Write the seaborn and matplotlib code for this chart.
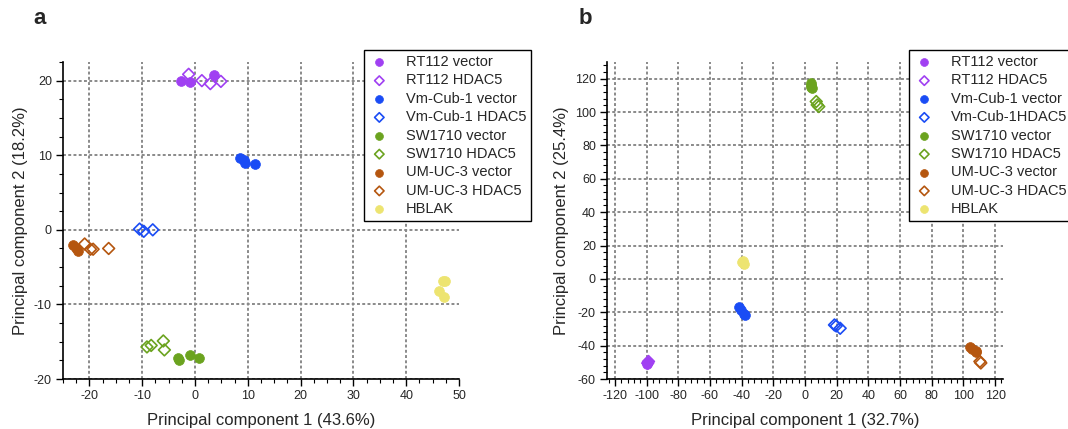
import numpy as np
import pandas as pd
import matplotlib
matplotlib.use('Agg')
import matplotlib.pyplot as plt
import seaborn as sns
from matplotlib.ticker import MultipleLocator

sns.set_style('white')
plt.rcParams['font.family'] = ['Liberation Sans', 'DejaVu Sans']
plt.rcParams['axes.unicode_minus'] = False

# Groups shown in both panels (legend order)
groups = ['RT112 vector', 'RT112 HDAC5', 'Vm-Cub-1 vector', 'Vm-Cub-1 HDAC5',
          'SW1710 vector', 'SW1710 HDAC5', 'UM-UC-3 vector', 'UM-UC-3 HDAC5', 'HBLAK']
labels_b = ['RT112 vector', 'RT112 HDAC5', 'Vm-Cub-1 vector', 'Vm-Cub-1HDAC5',
            'SW1710 vector', 'SW1710 HDAC5', 'UM-UC-3 vector', 'UM-UC-3 HDAC5', 'HBLAK']
colors = ['#A040F2', '#A040F2', '#1A4CF5', '#1A4CF5', '#6BA31F', '#6BA31F',
          '#B5560F', '#B5560F', '#EDE470']
filled = [True, False, True, False, True, False, True, False, True]

# Panel a
a_group = (['RT112 vector'] * 3 + ['RT112 HDAC5'] * 4 + ['Vm-Cub-1 vector'] * 4
           + ['Vm-Cub-1 HDAC5'] * 3 + ['SW1710 vector'] * 4 + ['SW1710 HDAC5'] * 4
           + ['UM-UC-3 vector'] * 3 + ['UM-UC-3 HDAC5'] * 4 + ['HBLAK'] * 4)
a_pc1 = [-2.6, -0.9, 3.6,
         -1.2, 1.3, 2.9, 4.9,
         8.6, 9.5, 11.4, 9.2,
         -10.5, -9.7, -8.0,
         -3.1, -3.3, -0.9, 0.8,
         -9.1, -8.3, -6.0, -5.8,
         -23.1, -22.6, -22.2,
         -20.9, -19.8, -19.3, -16.35,
         46.9, 47.3, 46.3, 47.1]
a_pc2 = [20.0, 19.8, 20.7,
         20.85, 20.0, 19.6, 19.9,
         9.6, 9.0, 8.8, 9.3,
         0.1, -0.2, 0.0,
         -17.4, -17.2, -16.8, -17.2,
         -15.7, -15.5, -14.9, -16.1,
         -2.05, -2.5, -2.85,
         -1.9, -2.6, -2.6, -2.5,
         -6.8, -6.8, -8.2, -9.0]

# Panel b
b_group = (['RT112 vector'] * 2 + ['RT112 HDAC5'] * 2 + ['Vm-Cub-1 vector'] * 4
           + ['Vm-Cub-1 HDAC5'] * 3 + ['SW1710 vector'] * 4 + ['SW1710 HDAC5'] * 3
           + ['UM-UC-3 vector'] * 4 + ['UM-UC-3 HDAC5'] * 2 + ['HBLAK'] * 3)
b_pc1 = [-99.5, -99.0,
         -99.3, -98.8,
         -41.7, -40.2, -38.1, -38.8,
         18.6, 19.7, 22.2,
         3.5, 4.0, 4.3, 3.8,
         7.1, 7.7, 8.7,
         104.1, 105.7, 107.8, 108.0,
         111.0, 110.4,
         -39.6, -38.7, -39.2]
b_pc2 = [-51.0, -50.0,
         -50.5, -49.5,
         -17.1, -18.7, -21.7, -20.8,
         -27.6, -28.2, -29.6,
         117.2, 116.0, 114.2, 115.2,
         106.3, 104.3, 103.3,
         -40.9, -42.1, -43.5, -44.0,
         -50.4, -49.5,
         10.1, 9.1, 10.6]

df_a = pd.DataFrame({'pc1': a_pc1, 'pc2': a_pc2, 'group': a_group})
df_b = pd.DataFrame({'pc1': b_pc1, 'pc2': b_pc2, 'group': b_group})

fig = plt.figure(figsize=(10.68, 4.29), dpi=100)
ax_a = fig.add_axes([63 / 1068, 1 - 379 / 429, 396 / 1068, 317 / 429])
ax_b = fig.add_axes([607 / 1068, 1 - 379 / 429, 396 / 1068, 317 / 429])


def draw_panel(ax, df, labels, xlim, ylim, xmaj, ymaj, xmin, ymin, xlabel, ylabel, leg_x):
    for g, lab, col, fill in zip(groups, labels, colors, filled):
        sub = df[df['group'] == g]
        if fill:
            sns.scatterplot(data=sub, x='pc1', y='pc2', ax=ax, marker='o', s=50,
                            facecolor=col, edgecolor=col, linewidth=0.5, label=lab, zorder=3)
        else:
            sns.scatterplot(data=sub, x='pc1', y='pc2', ax=ax, marker='D', s=36,
                            facecolor='none', edgecolor=col, linewidth=1.2, label=lab, zorder=3)
    ax.set_xlim(*xlim)
    ax.set_ylim(*ylim)
    ax.xaxis.set_major_locator(MultipleLocator(xmaj))
    ax.yaxis.set_major_locator(MultipleLocator(ymaj))
    ax.xaxis.set_minor_locator(MultipleLocator(xmin))
    ax.yaxis.set_minor_locator(MultipleLocator(ymin))
    ax.grid(True, which='major', linestyle=(0, (1.5, 1.2)), color='#8a8a8a', linewidth=1.4)
    ax.set_axisbelow(True)
    for side in ['top', 'right']:
        ax.spines[side].set_visible(False)
    for side in ['left', 'bottom']:
        ax.spines[side].set_color('black')
        ax.spines[side].set_linewidth(1.2)
    ax.tick_params(which='major', direction='out', length=5, width=1.0, labelsize=9,
                   color='black', bottom=True, left=True, pad=3)
    ax.tick_params(which='minor', direction='out', length=3, width=0.8,
                   color='black', bottom=True, left=True)
    ax.set_xlabel(xlabel, fontsize=12, labelpad=8)
    ax.set_ylabel(ylabel, fontsize=12, labelpad=4)
    leg = ax.legend(loc='upper left', bbox_to_anchor=(leg_x / 1068, 1 - 50 / 429),
                    bbox_transform=fig.transFigure, fontsize=10.5, frameon=True,
                    fancybox=False, edgecolor='black', framealpha=1,
                    labelspacing=0.3, handletextpad=1.1, borderpad=0.35,
                    handlelength=1.4, markerscale=0.8, borderaxespad=0)
    leg.get_frame().set_linewidth(1.0)


draw_panel(ax_a, df_a, groups, (-25, 50), (-20, 22.5), 10, 10, 2.5, 2.5,
           'Principal component 1 (43.6%)', 'Principal component 2 (18.2%)', 364)
draw_panel(ax_b, df_b, labels_b, (-125, 125), (-60, 130), 20, 20, 4, 4,
           'Principal component 1 (32.7%)', 'Principal component 2 (25.4%)', 909)

# hide the grid line that falls on the right edge of panel a
for gl, loc in zip(ax_a.xaxis.get_gridlines(), ax_a.get_xticks()):
    if loc >= 50:
        gl.set_visible(False)

fig.text(40 / 1068, 1 - 18 / 429, 'a', fontsize=16, fontweight='bold', ha='center', va='center')
fig.text(585 / 1068, 1 - 18 / 429, 'b', fontsize=16, fontweight='bold', ha='center', va='center')

fig.savefig('out.png', dpi=100)
